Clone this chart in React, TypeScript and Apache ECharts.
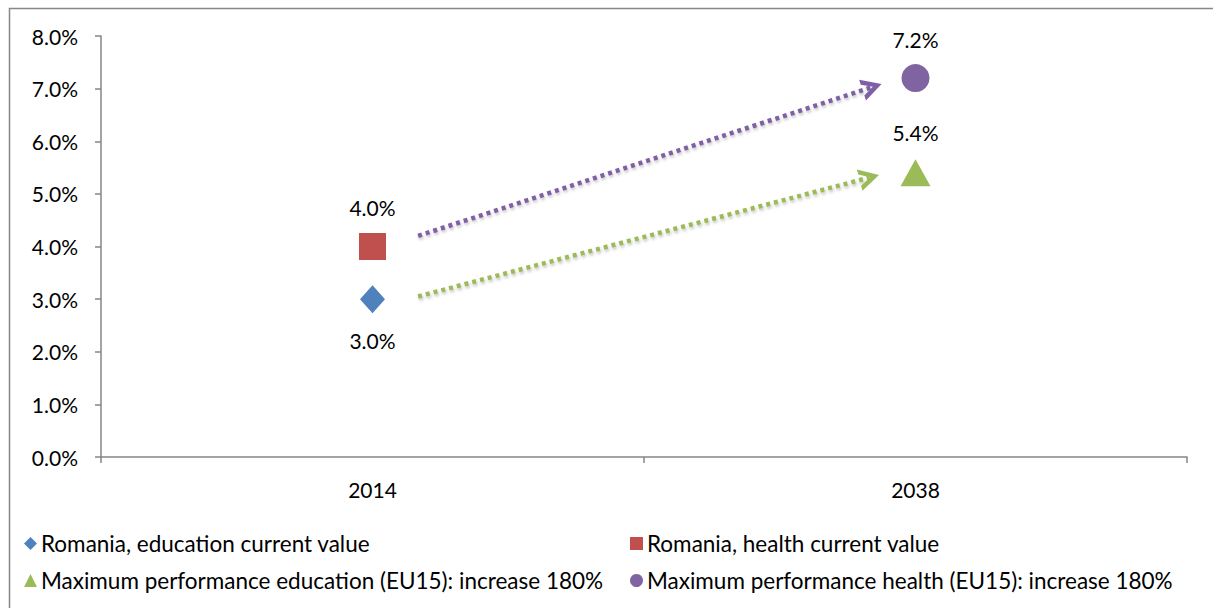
import React, { useEffect, useRef } from "react";
import * as echarts from "echarts";

const categories = ["2014", "2038"];
const yTicks = [0, 1, 2, 3, 4, 5, 6, 7, 8];
const eduCurrent = [["2014", 3.0]];
const healthCurrent = [["2014", 4.0]];
const eduMax = [["2038", 5.4]];
const healthMax = [["2038", 7.2]];
// arrow start/end in (category position, value %)
const healthArrow = [[0.084, 4.2], [0.92, 7.03]];
const eduArrow = [[0.084, 3.05], [0.915, 5.31]];

const seriesNames = [
  "Romania, education current value",
  "Romania, health current value",
  "Maximum performance education (EU15): increase 180%",
  "Maximum performance health (EU15): increase 180%",
];

const FONT = "Lato, 'Open Sans', sans-serif";
const AXIS_COLOR = "#868686";
const chevron = "path://M0,10 L5,0 L10,10 L7.6,10 L5,4.6 L2.4,10 Z";

export default function App() {
  const ref = useRef<HTMLDivElement>(null);
  useEffect(() => {
    if (!ref.current) return;
    const chart = echarts.init(ref.current, undefined, { renderer: "svg" });
    const fmt = (p: any) => Number(p.value[1]).toFixed(1) + "%";
    const labelBase = { show: true, formatter: fmt, fontFamily: FONT, fontSize: 21, color: "#000" };
    const legendBase = {
      orient: "horizontal" as const,
      itemWidth: 13,
      itemHeight: 13,
      itemGap: 10,
      padding: 0,
      textStyle: { fontFamily: FONT, fontSize: 22.5, color: "#000", padding: [0, 0, 0, -1] },
    };
    const arrowLine = (name: string, pts: number[][], color: string) => ({
      type: "line",
      name,
      xAxisIndex: 1,
      yAxisIndex: 0,
      data: [],
      silent: true,
      markLine: {
        silent: true,
        symbol: ["none", chevron],
        symbolSize: [22, 20],
        label: { show: false },
        lineStyle: {
          color,
          width: 4.5,
          type: [4, 4],
          cap: "butt",
          shadowColor: "rgba(0,0,0,0.25)",
          shadowBlur: 3,
          shadowOffsetX: 1,
          shadowOffsetY: 2,
        },
        emphasis: { disabled: true },
        data: [[{ coord: pts[0] }, { coord: pts[1] }]],
      },
    });
    chart.setOption({
      animation: false,
      backgroundColor: "#fff",
      grid: { left: 101, right: 26, top: 36, bottom: 151, containLabel: false },
      xAxis: [
        {
          type: "category",
          data: categories,
          boundaryGap: true,
          axisLine: { onZero: false, lineStyle: { color: AXIS_COLOR, width: 1.5 } },
          axisTick: { show: true, length: 6, alignWithLabel: false, lineStyle: { color: AXIS_COLOR, width: 1.5 } },
          axisLabel: { fontFamily: FONT, fontSize: 21, color: "#000", margin: 22 },
          splitLine: { show: false },
        },
        { type: "value", min: -0.5, max: 1.5, show: false },
      ],
      yAxis: {
        type: "value",
        min: 0,
        max: 8,
        interval: 1,
        axisLine: { show: true, onZero: false, lineStyle: { color: AXIS_COLOR, width: 1.5 } },
        axisTick: { show: true, length: 6, lineStyle: { color: AXIS_COLOR, width: 1.5 } },
        axisLabel: {
          fontFamily: FONT,
          fontSize: 21,
          color: "#000",
          margin: 23,
          formatter: (v: number) => (yTicks.includes(v) ? v.toFixed(1) + "%" : ""),
        },
        splitLine: { show: false },
      },
      legend: [
        { ...legendBase, left: 24, top: 532, data: [{ name: seriesNames[0], icon: "diamond" }] },
        { ...legendBase, left: 630, top: 532, data: [{ name: seriesNames[1], icon: "rect" }] },
        { ...legendBase, left: 24, top: 569, data: [{ name: seriesNames[2], icon: "triangle" }] },
        { ...legendBase, left: 630, top: 569, data: [{ name: seriesNames[3], icon: "circle" }] },
      ],
      graphic: [
        {
          type: "rect",
          left: 7,
          top: 6,
          shape: { width: 1300, height: 700 },
          style: { fill: "none", stroke: AXIS_COLOR, lineWidth: 1.5 },
          silent: true,
          z: -10,
        },
      ],
      series: [
        arrowLine("healthArrow", healthArrow, "#7F60A6"),
        arrowLine("eduArrow", eduArrow, "#9BBB59"),
        {
          type: "scatter",
          name: seriesNames[0],
          data: eduCurrent,
          symbol: "diamond",
          symbolSize: [25, 28],
          itemStyle: { color: "#4F81BD", opacity: 1 },
          label: { ...labelBase, position: "bottom", distance: 17 },
        },
        {
          type: "scatter",
          name: seriesNames[1],
          data: healthCurrent,
          symbol: "rect",
          symbolSize: 27,
          itemStyle: { color: "#C0504D", opacity: 1 },
          label: { ...labelBase, position: "top", distance: 15 },
        },
        {
          type: "scatter",
          name: seriesNames[2],
          data: eduMax,
          symbol: "triangle",
          symbolSize: [30, 27],
          itemStyle: { color: "#9BBB59", opacity: 1 },
          label: { ...labelBase, position: "top", distance: 16 },
        },
        {
          type: "scatter",
          name: seriesNames[3],
          data: healthMax,
          symbol: "circle",
          symbolSize: 28,
          itemStyle: { color: "#8064A2", opacity: 1 },
          label: { ...labelBase, position: "top", distance: 14 },
        },
      ],
    });
    return () => chart.dispose();
  }, []);
  return (
    <div
      ref={ref}
      style={{ position: "absolute", left: 0, top: 0, width: 1213, height: 608 }}
    />
  );
}
